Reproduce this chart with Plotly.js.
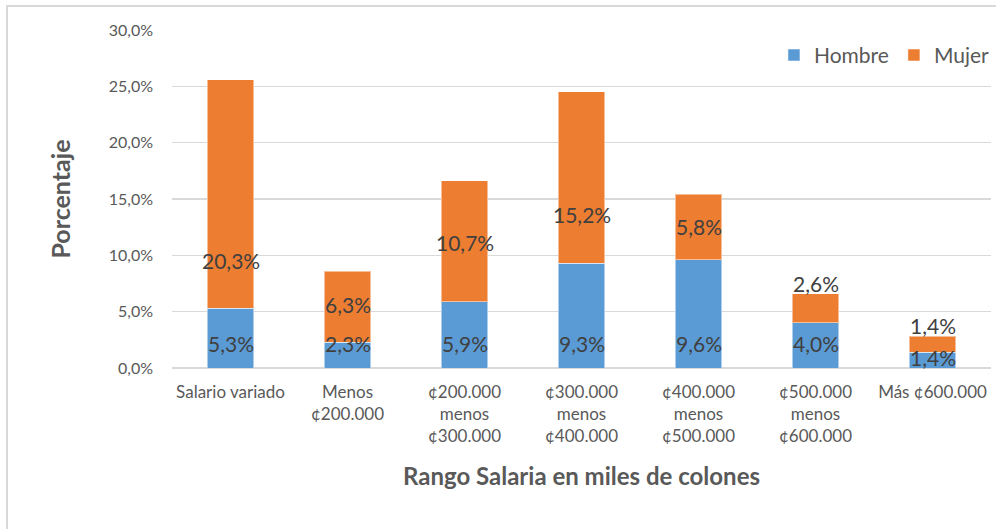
<!DOCTYPE html>
<html>
<head>
<meta charset="utf-8">
<script src="https://cdn.plot.ly/plotly-3.0.1.min.js"></script>
<style>
  html, body { margin:0; padding:0; background:#fff; overflow:hidden; }
  #frame { position:absolute; left:6px; top:5px; width:1100px; height:700px; border:2px solid #d9d9d9; box-sizing:border-box; }
  #chart { position:absolute; left:0; top:0; width:996px; height:529px; }
</style>
</head>
<body>
<div id="frame"></div>
<div id="chart"></div>
<script>
const categories = [
  "Salario variado",
  "Menos<br>¢200.000",
  "¢200.000<br>menos<br>¢300.000",
  "¢300.000<br>menos<br>¢400.000",
  "¢400.000<br>menos<br>¢500.000",
  "¢500.000<br>menos<br>¢600.000",
  "Más ¢600.000"
];
const hombre = [5.3, 2.3, 5.9, 9.3, 9.6, 4.0, 1.4];
const mujer  = [20.3, 6.3, 10.7, 15.2, 5.8, 2.6, 1.4];
// where each data label sits on the value axis (as placed in the original)
const hombreLabelAt = [2.2, 2.2, 2.2, 2.2, 2.2, 2.2, 0.9];
const mujerLabelAt  = [9.5, 5.6, 11.1, 13.6, 12.6, 7.5, 3.8];

const fmt = v => v.toFixed(1).replace('.', ',') + '%';
const FONT = 'Lato, "Open Sans", sans-serif';

const traces = [
  { type:'bar', name:'Hombre', x:categories, y:hombre,
    marker:{color:'#5B9BD5', line:{color:'rgba(255,255,255,0.5)', width:1}},
    hoverinfo:'skip' },
  { type:'bar', name:'Mujer', x:categories, y:mujer,
    marker:{color:'#ED7D31', line:{color:'rgba(255,255,255,0.5)', width:1}},
    hoverinfo:'skip' }
];

const annotations = [];
categories.forEach((c, i) => {
  annotations.push({x:c, y:hombreLabelAt[i], xref:'x', yref:'y', text:fmt(hombre[i]),
    showarrow:false, font:{family:FONT, size:21, color:'#404040'}});
  annotations.push({x:c, y:mujerLabelAt[i], xref:'x', yref:'y', text:fmt(mujer[i]),
    showarrow:false, font:{family:FONT, size:21, color:'#404040'}});
});

const layout = {
  width:996, height:529,
  margin:{l:172, r:1, t:30, b:161},
  paper_bgcolor:'rgba(0,0,0,0)', plot_bgcolor:'rgba(0,0,0,0)',
  separators:',.',
  barmode:'stack', bargap:0.6,
  font:{family:FONT, color:'#595959'},
  xaxis:{
    type:'category', showgrid:false, showline:false, zeroline:false, ticks:'',
    tickfont:{family:FONT, size:17, color:'#595959'},
    ticklabelstandoff:12,
    title:{text:'Rango Salaria en miles de colones', font:{family:FONT, size:24, color:'#595959', weight:'bold'}, standoff:22}
  },
  yaxis:{
    range:[0,30], dtick:5, tickformat:'.1f', ticksuffix:'%',
    showgrid:true, gridcolor:'#d9d9d9', gridwidth:1.5,
    zeroline:true, zerolinecolor:'#d9d9d9', zerolinewidth:1.5,
    showline:false, ticks:'',
    tickfont:{family:FONT, size:16, color:'#595959'},
    ticklabelstandoff:18,
    title:{text:'Porcentaje', font:{family:FONT, size:25, color:'#595959', weight:'bold'}, standoff:30}
  },
  showlegend:true,
  legend:{orientation:'h', x:0.735, y:0.925, xanchor:'left', yanchor:'middle',
    font:{family:FONT, size:21, color:'#595959'}, bgcolor:'rgba(0,0,0,0)',
    traceorder:'normal', itemwidth:30},
  annotations:annotations
};

Plotly.newPlot('chart', traces, layout, {displayModeBar:false, staticPlot:true});
</script>
</body>
</html>
